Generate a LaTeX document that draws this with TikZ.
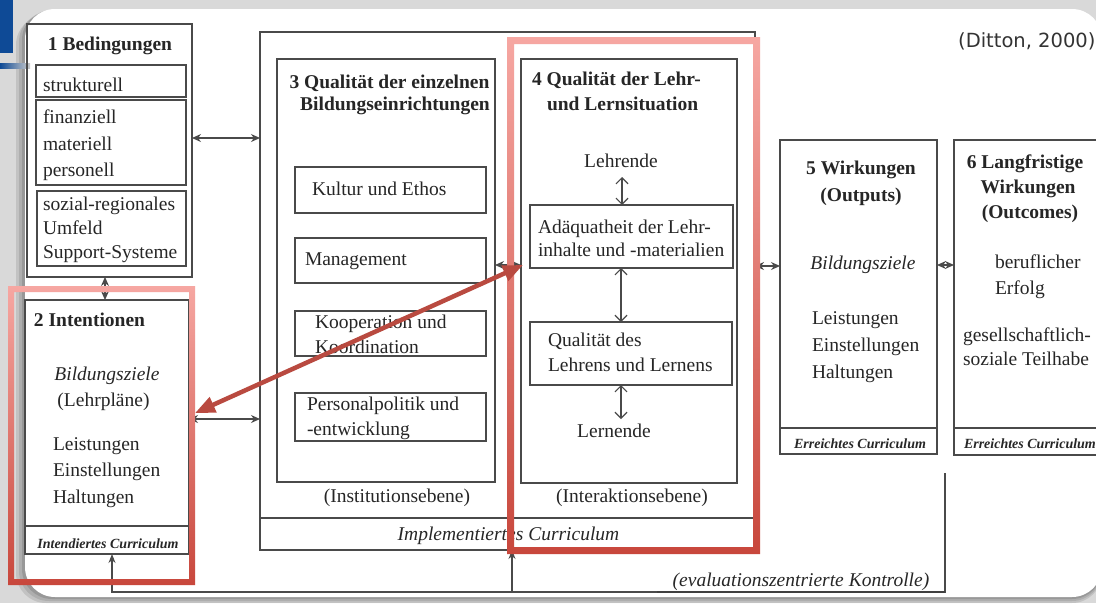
\documentclass[tikz,border=0pt]{standalone}
\usepackage{fontspec}
\setmainfont{Liberation Serif}
\newfontfamily\dsans{DejaVu Sans}
\usetikzlibrary{arrows.meta}
\definecolor{ln}{HTML}{4A4A4A}
\definecolor{tx}{HTML}{262626}
\definecolor{rd}{HTML}{B94A40}
\definecolor{rtop}{HTML}{F6A7A2}
\definecolor{rbot}{HTML}{C8473C}
\definecolor{bl}{HTML}{0E4A96}
\newcommand\dfs{\fontsize{19.5}{23}\selectfont}
\begin{document}
\begin{tikzpicture}[x=1pt,y=-1pt,
  bx/.style={draw=ln, line width=1.4pt, inner sep=0pt, outer sep=0pt},
  tl/.style={inner sep=0pt, outer sep=0pt, text=tx, anchor=base west},
  tc/.style={inner sep=0pt, outer sep=0pt, text=tx, anchor=base},
  nrm/.style={font=\dfs},
  bld/.style={font=\dfs\bfseries},
  itl/.style={font=\dfs\itshape},
  smi/.style={font=\fontsize{14}{16}\selectfont\bfseries\itshape},
  dbl/.style={draw=ln, line width=1.3pt, arrows={Stealth[length=9pt,width=8pt]-Stealth[length=9pt,width=8pt]}},
  opn/.style={draw=ln, line width=1.2pt, arrows={Straight Barb[length=6pt,width=12pt]-Straight Barb[length=6pt,width=12pt]}},
  fbl/.style={draw=ln, line width=1.1pt},
  redarr/.style={draw=rd, line width=4.5pt, arrows={Triangle[length=20pt,width=16pt]-Triangle[length=20pt,width=16pt]}}
]
\useasboundingbox (0,0) rectangle (1096,603);
\clip (0,0) rectangle (1096,603);
% slide background
\fill[gray!30] (0,0) rectangle (1096,603);
\fill[black, opacity=0.10, rounded corners=30pt] (16,15) rectangle (1102,603);
\fill[black, opacity=0.10, rounded corners=30pt] (19,12) rectangle (1102,601);
\fill[black, opacity=0.12, rounded corners=30pt] (22,10) rectangle (1102,599);
\fill[white, rounded corners=30pt] (25,9) rectangle (1102,597);
\fill[bl] (0,0) rectangle (13,53);
\shade[left color=bl, right color=gray!40] (0,63) rectangle (30,68);

% citation
\node[inner sep=0pt, anchor=base west, font=\dsans\fontsize{19.5}{22}\selectfont, text=black!80] (cite) at (958,47) {(Ditton, 2000)};

% Box 1
\node[bx, minimum width=165pt, minimum height=253pt] (b1) at (109.5,150.5) {};
\node[bx, minimum width=150pt, minimum height=32pt] (s1) at (111,81) {};
\node[bx, minimum width=150pt, minimum height=85pt] (s2) at (111,142.5) {};
\node[bx, minimum width=149pt, minimum height=75pt] (s3) at (111.5,228.5) {};
\node[tc, bld] (t1) at (110,50) {1 Bedingungen};
\node[tl, nrm] (t1a) at (43,91) {strukturell};
\node[tl, nrm] (t1b) at (43,123) {finanziell};
\node[tl, nrm] (t1c) at (43,150) {materiell};
\node[tl, nrm] (t1d) at (43,176.5) {personell};
\node[tl, nrm] (t1e) at (43,210) {sozial-regionales};
\node[tl, nrm] (t1f) at (43,234.5) {Umfeld};
\node[tl, nrm] (t1g) at (43,258.5) {Support-Systeme};

% Box 2
\node[bx, minimum width=164pt, minimum height=254pt] (b2) at (107,427) {};
\draw[ln, line width=1.4pt] (b2.west |- 0,526) -- (b2.east |- 0,526);
\node[tl, bld] (t2) at (34,326.5) {2 Intentionen};
\node[tc, itl] (t2a) at (107,380) {Bildungsziele};
\node[tc, nrm] (t2b) at (103.5,406.5) {(Lehrpläne)};
\node[tl, nrm] (t2c) at (53,450) {Leistungen};
\node[tl, nrm] (t2d) at (53,476.5) {Einstellungen};
\node[tl, nrm] (t2e) at (53,503) {Haltungen};
\node[tc, smi] (t2f) at (108,548) {Intendiertes Curriculum};

% Container (Implementiertes Curriculum)
\node[bx, minimum width=495pt, minimum height=518pt] (c3) at (507.5,291) {};
\draw[ln, line width=1.4pt] (c3.west |- 0,518) -- (c3.east |- 0,518);
\draw[ln, line width=2.2pt] (383,518) -- (633,518);
\node[tc, itl] (t3c) at (508.5,540) {Implementiertes Curriculum};

% Box 3
\node[bx, minimum width=218pt, minimum height=423pt] (b3) at (386,270.5) {};
\draw[ln, line width=2.2pt] (310,482) -- (483,482);
\node[tc, bld] (t3) at (389.5,88.5) {3 Qualität der einzelnen};
\node[tc, bld] (t3b) at (395,110.5) {Bildungseinrichtungen};
\node[bx, minimum width=191pt, minimum height=46pt] (k1) at (390.5,190) {};
\node[bx, minimum width=191pt, minimum height=45pt] (k2) at (390.5,260.5) {};
\node[bx, minimum width=191pt, minimum height=45pt] (k3) at (390.5,333.5) {};
\node[bx, minimum width=191pt, minimum height=48pt] (k4) at (390.5,417) {};
\node[tl, nrm] (tk1) at (312,195) {Kultur und Ethos};
\node[tl, nrm] (tk2) at (305,265) {Management};
\node[tl, nrm] (tk3) at (315,328.5) {Kooperation und};
\node[tl, nrm] (tk3b) at (315,353) {Koordination};
\node[tl, nrm] (tk4) at (307,410) {Personalpolitik und};
\node[tl, nrm] (tk4b) at (307,435) {-entwicklung};
\node[tc, nrm] (t3e) at (397,502) {(Institutionsebene)};

% Box 4
\node[bx, minimum width=216pt, minimum height=424pt] (b4) at (629,271) {};
\draw[ln, line width=2.2pt] (543,483) -- (720,483);
\node[tl, bld] (t4) at (532,85) {4 Qualität der Lehr-};
\node[tl, bld] (t4b) at (547,110) {und Lernsituation};
\node[tc, nrm] (lehr) at (621,167.5) {Lehrende};
\node[bx, minimum width=203pt, minimum height=63pt] (a1) at (631.5,236.5) {};
\node[tl, nrm] (ta1) at (538,233.5) {Adäquatheit der Lehr-};
\node[tl, nrm] (ta1b) at (538,256) {inhalte und -materialien};
\node[bx, minimum width=202pt, minimum height=63pt] (a2) at (631,353.5) {};
\node[tl, nrm] (ta2) at (548,346) {Qualität des};
\node[tl, nrm] (ta2b) at (548,371) {Lehrens und Lernens};
\node[tc, nrm] (lern) at (614,437.5) {Lernende};
\node[tc, nrm] (t4e) at (632,502) {(Interaktionsebene)};
\draw[opn] (622,177) -- (a1.north -| 622,0);
\draw[opn] (a1.south -| 621,0) -- (a2.north -| 621,0);
\draw[opn] (a2.south -| 621,0) -- (621,419);

% Box 5
\node[bx, minimum width=157pt, minimum height=314pt] (b5) at (858.5,297) {};
\draw[ln, line width=2pt] (b5.west |- 0,428) -- (b5.east |- 0,428);
\node[tc, bld] (t5) at (861,174.5) {5 Wirkungen};
\node[tc, bld] (t5b) at (861,201) {(Outputs)};
\node[tc, itl] (t5c) at (863,269.5) {Bildungsziele};
\node[tl, nrm] (t5d) at (812,324) {Leistungen};
\node[tl, nrm] (t5e) at (812,351) {Einstellungen};
\node[tl, nrm] (t5f) at (812,378) {Haltungen};
\node[tc, smi] (t5g) at (860,448) {Erreichtes Curriculum};

% Box 6
\node[bx, minimum width=156pt, minimum height=315pt] (b6) at (1032,297.5) {};
\draw[ln, line width=1.4pt] (b6.west |- 0,428) -- (b6.east |- 0,428);
\node[tc, bld] (t6) at (1025,168.5) {6 Langfristige};
\node[tc, bld] (t6b) at (1028,193) {Wirkungen};
\node[tc, bld] (t6c) at (1030,218) {(Outcomes)};
\node[tl, nrm] (t6d) at (995,268) {beruflicher};
\node[tl, nrm] (t6e) at (995,294) {Erfolg};
\node[tl, nrm] (t6f) at (963,341) {gesellschaftlich-};
\node[tl, nrm] (t6g) at (963,365) {soziale Teilhabe};
\node[tl, smi] (t6h) at (964,448) {Erreichtes Curriculum};

% connectors
\draw[dbl] (b1.east |- 0,138) -- (c3.west |- 0,138);
\draw[dbl] (b1.south -| 105,0) -- (b2.north -| 105,0);
\draw[dbl] (b2.east |- 0,419) -- (c3.west |- 0,419);
\draw[dbl] (b3.east |- 0,265) -- (b4.west |- 0,265);
\draw[dbl] (c3.east |- 0,266) -- (b5.west |- 0,266);
\draw[dbl] (b5.east |- 0,265) -- (b6.west |- 0,265);

% feedback loop
\coordinate (fbtop) at (945,473);
\coordinate (fbcorner) at (945,592);
\coordinate (fbleft) at (112,592);
\coordinate (fbmid) at (512,592);
\draw[fbl, arrows={-Stealth[length=9pt,width=7pt]}] (fbtop) -- (fbcorner) -- (fbleft) -- (fbleft |- b2.south);
\draw[fbl, arrows={-Stealth[length=9pt,width=7pt]}] (fbmid) -- (fbmid |- c3.south);
\draw[black!75, line width=1.6pt] (657,592) -- (fbcorner);
\node[tc, itl] (evk) at (801,586) {(evaluationszentrierte Kontrolle)};

% red highlights
\shade[top color=rtop, bottom color=rbot, even odd rule] (8,286) rectangle (195,585) (14,292) rectangle (189,579);
\shade[top color=rtop, bottom color=rbot, even odd rule] (507,37) rectangle (760,554) (514,44) rectangle (753,547);
\coordinate (ra) at (195,413);
\coordinate (rb) at (523,265);
\draw[redarr] (ra) -- (rb);
\end{tikzpicture}
\end{document}
